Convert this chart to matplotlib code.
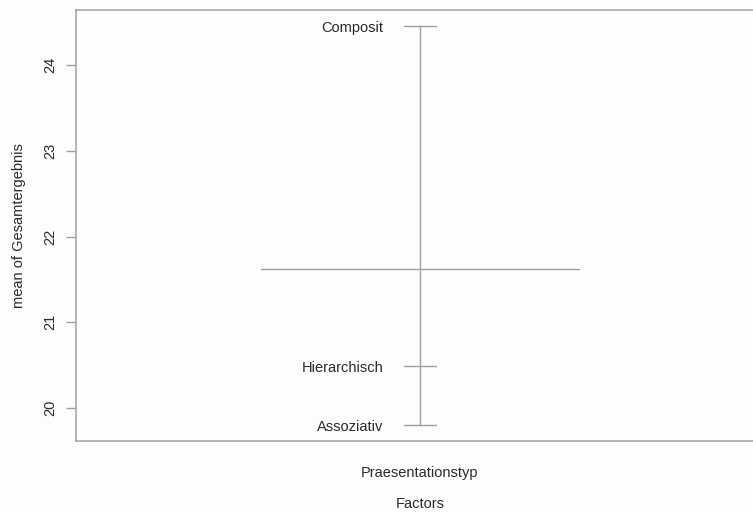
import matplotlib.pyplot as plt

# Daten
factor_name = "Praesentationstyp"
levels = ["Composit", "Hierarchisch", "Assoziativ"]
level_means = [24.46, 20.49, 19.80]
grand_mean = 21.62

plt.rcParams["font.family"] = ["Liberation Sans", "DejaVu Sans"]
line_col = "#a0a0a0"
text_col = "#2a2a2a"

fig = plt.figure(figsize=(7.53, 5.13), dpi=100, facecolor="#fdfdfd")
ax = fig.add_axes([0.1005, 0.1404, 0.9141, 0.8402])
ax.set_facecolor("#fdfdfd")

x = 1
# vertikale Linie ueber alle Stufen
ax.plot([x, x], [min(level_means), max(level_means)], color=line_col, lw=1.0)
# Gesamtmittelwert
ax.plot([x - 0.5, x + 0.5], [grand_mean, grand_mean], color=line_col, lw=1.0)
# Stufen
for lab, m in zip(levels, level_means):
    ax.plot([x - 0.05, x + 0.05], [m, m], color=line_col, lw=1.0)
    ax.annotate(lab, (x, m), xytext=(-26, -1.5), textcoords="offset points",
                ha="right", va="center", fontsize=10.5, color=text_col)

ax.set_xlim(-0.08, 2.08)
lo, hi = min(level_means), max(level_means)
pad = 0.04 * (hi - lo)
ax.set_ylim(lo - pad, hi + pad)

ax.set_xticks([])
ax.set_yticks([20, 21, 22, 23, 24])
ax.set_yticklabels(["20", "21", "22", "23", "24"], rotation=90, va="center")
ax.tick_params(axis="y", length=7, width=1.0, color=line_col, labelsize=10.5,
               labelcolor=text_col, pad=6)
for sp in ax.spines.values():
    sp.set_color("#a8a8a8")
    sp.set_linewidth(1.2)

ax.text(x, -0.058, factor_name, transform=ax.get_xaxis_transform(),
        ha="center", va="top", fontsize=10.5, color=text_col)
ax.set_xlabel("Factors", fontsize=10.5, color=text_col, labelpad=40)
ax.set_ylabel("mean of Gesamtergebnis", fontsize=10.5, color=text_col, labelpad=13)

fig.savefig("out.png", dpi=100, facecolor=fig.get_facecolor())
